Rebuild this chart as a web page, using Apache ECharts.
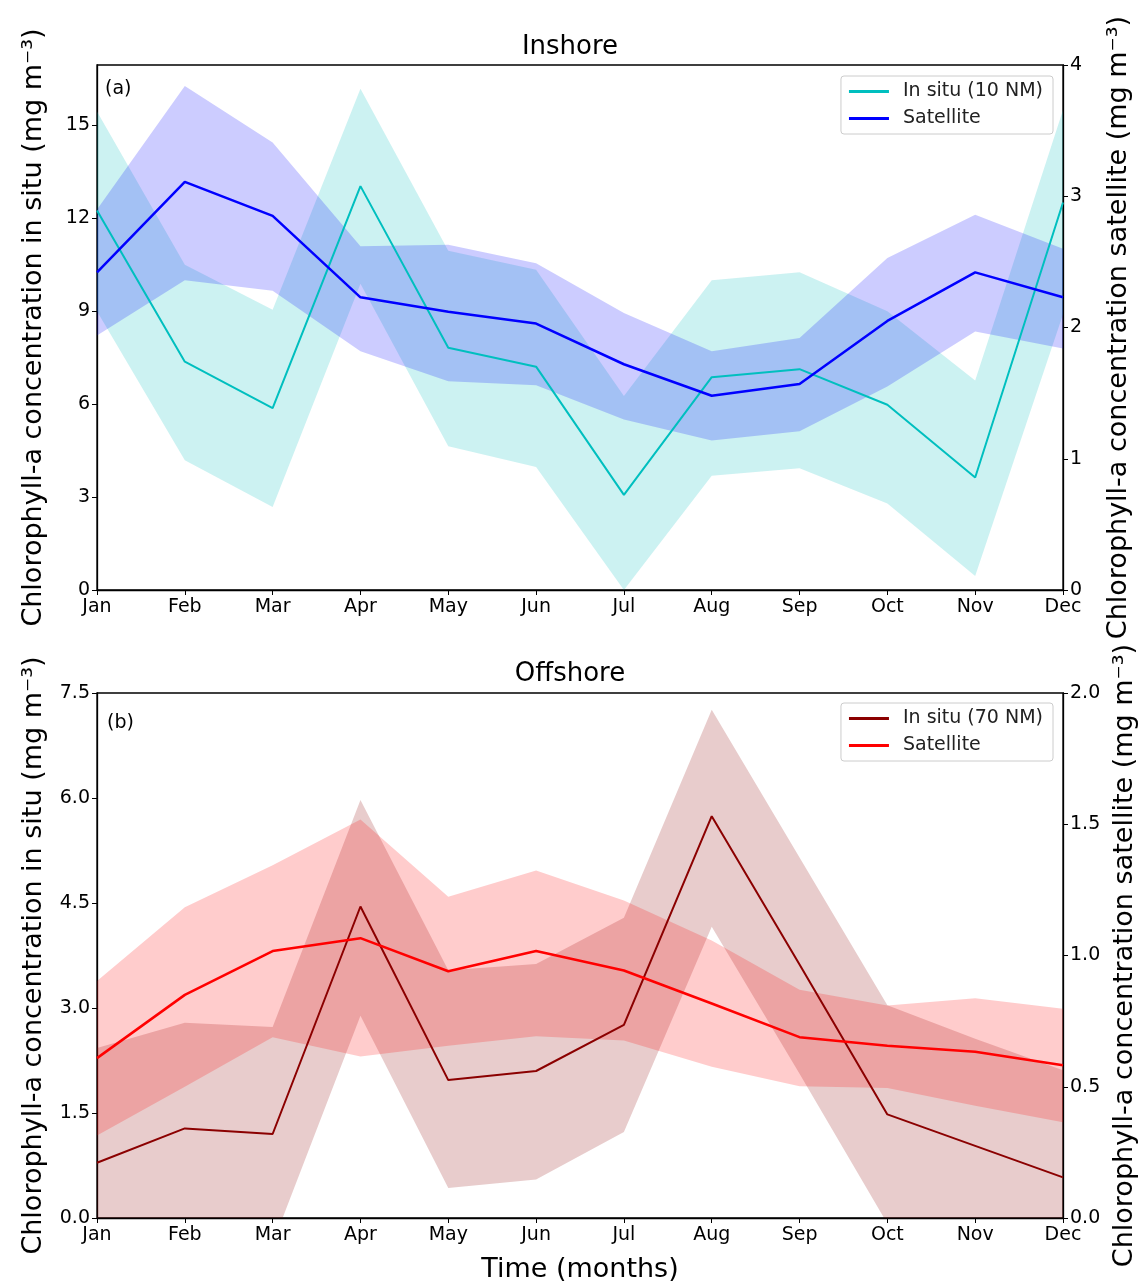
<!DOCTYPE html>
<html>
<head>
<meta charset="utf-8">
<script src="https://cdn.jsdelivr.net/npm/echarts@6/dist/echarts.min.js"></script>
<style>
html,body{margin:0;padding:0;background:#fff;}
#chart{width:1140px;height:1286px;}
</style>
</head>
<body>
<div id="chart"></div>
<script>
// ---------- data ----------
const months = ['Jan','Feb','Mar','Apr','May','Jun','Jul','Aug','Sep','Oct','Nov','Dec'];

// Inshore (a)
const inshoreInSitu      = [12.25, 7.37, 5.87, 13.04, 7.82, 7.21, 3.07, 6.87, 7.13, 5.98, 3.63, 12.51];
const inshoreInSituUpper = [15.45, 10.50, 9.05, 16.18, 10.95, 10.34, 6.26, 10.00, 10.26, 9.00, 6.76, 15.50];
const inshoreInSituLower = [9.00, 4.19, 2.68, 9.89, 4.64, 3.97, 0.00, 3.69, 3.93, 2.79, 0.45, 8.90];
const inshoreSat         = [2.42, 3.11, 2.85, 2.23, 2.12, 2.03, 1.72, 1.48, 1.57, 2.05, 2.42, 2.23];
const inshoreSatUpper    = [2.90, 3.84, 3.41, 2.62, 2.63, 2.49, 2.11, 1.82, 1.92, 2.53, 2.86, 2.60];
const inshoreSatLower    = [1.94, 2.36, 2.28, 1.82, 1.59, 1.56, 1.30, 1.14, 1.21, 1.55, 1.97, 1.84];

// Offshore (b)
const offshoreInSitu      = [0.79, 1.28, 1.20, 4.45, 1.97, 2.10, 2.76, 5.74, 3.62, 1.48, 1.03, 0.58];
const offshoreInSituUpper = [2.43, 2.79, 2.73, 5.97, 3.54, 3.63, 4.29, 7.26, 5.15, 3.04, 2.56, 2.11];
const offshoreInSituLower = [-0.90, -0.60, -0.37, 2.89, 0.43, 0.55, 1.23, 4.16, 2.06, -0.08, -0.50, -1.00];
const offshoreSat         = [0.609, 0.850, 1.017, 1.066, 0.940, 1.017, 0.943, 0.817, 0.689, 0.656, 0.633, 0.582];
const offshoreSatUpper    = [0.903, 1.184, 1.344, 1.518, 1.224, 1.324, 1.210, 1.057, 0.870, 0.810, 0.837, 0.797];
const offshoreSatLower    = [0.314, 0.500, 0.689, 0.615, 0.656, 0.692, 0.676, 0.576, 0.502, 0.495, 0.428, 0.365];

// tick settings
const inshoreLeftTicks  = {min: 0, max: 16.95, interval: 3};
const inshoreRightTicks = {min: 0, max: 4, interval: 1};
const offshoreLeftTicks  = {min: 0, max: 7.5, interval: 1.5};
const offshoreRightTicks = {min: 0, max: 2, interval: 0.5};

// ---------- chart ----------
const FONT = 'DejaVu Sans';
const chart = echarts.init(document.getElementById('chart'), null, {renderer: 'canvas'});

function diff(u, l) { return u.map((v, i) => +(v - l[i]).toFixed(4)); }

function band(name, stack, xi, yi, lower, upper, fill) {
  return [
    {name: name + '-lo', type: 'line', xAxisIndex: xi, yAxisIndex: yi, stack: stack, stackStrategy: 'all',
     data: lower, symbol: 'none', lineStyle: {width: 0, opacity: 0}, silent: true, clip: true, z: 1},
    {name: name + '-hi', type: 'line', xAxisIndex: xi, yAxisIndex: yi, stack: stack, stackStrategy: 'all',
     data: diff(upper, lower), symbol: 'none', lineStyle: {width: 0, opacity: 0},
     areaStyle: {color: fill, opacity: 1}, silent: true, clip: true, z: 1}
  ];
}

function meanLine(name, xi, yi, data, color, width) {
  return {name: name, type: 'line', xAxisIndex: xi, yAxisIndex: yi, data: data, symbol: 'none',
          lineStyle: {color: color, width: width}, itemStyle: {color: color}, clip: true, z: 3};
}

const axisLabelStyle = {color: '#000', fontFamily: FONT, fontSize: 19};
const axisNameStyle = {color: '#000', fontFamily: FONT, fontSize: 27};

function xAx(gi, showName) {
  return {
    type: 'category', gridIndex: gi, data: months, boundaryGap: false,
    axisLine: {lineStyle: {color: '#000', width: 1.3}},
    axisTick: {length: 5, lineStyle: {color: '#000'}},
    axisLabel: Object.assign({margin: 8, interval: 0}, axisLabelStyle),
    splitLine: {show: false},
    name: showName ? 'Time (months)' : '', nameLocation: 'middle', nameGap: 38,
    nameTextStyle: axisNameStyle
  };
}

function yAx(gi, pos, ticks, name, gap, fmt) {
  return {
    type: 'value', gridIndex: gi, position: pos,
    min: ticks.min, max: ticks.max, interval: ticks.interval,
    axisLine: {show: true, lineStyle: {color: '#000', width: 1.3}},
    axisTick: {show: true, length: 5, lineStyle: {color: '#000'}},
    axisLabel: Object.assign({margin: 7, showMaxLabel: ticks.max % ticks.interval === 0 ? true : false,
      formatter: fmt}, axisLabelStyle),
    splitLine: {show: false},
    name: name, nameLocation: 'middle', nameRotate: 90, nameGap: gap,
    nameTextStyle: axisNameStyle
  };
}

const labInSitu = 'Chlorophyll-a concentration in situ (mg m\u207B\u00B3)';
const labSat = 'Chlorophyll-a concentration satellite (mg m\u207B\u00B3)';

const legendCommon = {
  orient: 'vertical', right: 87, icon: 'rect', itemWidth: 40, itemHeight: 3, itemGap: 8,
  padding: [6, 10, 6, 8], backgroundColor: 'rgba(255,255,255,0.8)',
  borderColor: '#cccccc', borderWidth: 1, borderRadius: 3,
  textStyle: {fontFamily: FONT, fontSize: 19, color: '#222', padding: [0, 0, 0, 9]},
  formatter: n => n.trim(), selectedMode: false
};

const option = {
  animation: false,
  backgroundColor: '#fff',
  title: [
    {text: 'Inshore', left: 'center', top: 29, textStyle: {fontFamily: FONT, fontSize: 26, fontWeight: 'normal', color: '#000'}},
    {text: 'Offshore', left: 'center', top: 656, textStyle: {fontFamily: FONT, fontSize: 26, fontWeight: 'normal', color: '#000'}},
    {text: '(a)', left: 100, top: 75, textStyle: {fontFamily: FONT, fontSize: 19, fontWeight: 'normal', color: '#000'}},
    {text: '(b)', left: 102, top: 709, textStyle: {fontFamily: FONT, fontSize: 19, fontWeight: 'normal', color: '#000'}}
  ],
  legend: [
    Object.assign({top: 76, data: ['In situ (10 NM)', 'Satellite']}, legendCommon),
    Object.assign({top: 703, data: ['In situ (70 NM)', 'Satellite ']}, legendCommon)
  ],
  grid: [
    {left: 97, right: 77, top: 65, height: 525, show: true, borderColor: '#000', borderWidth: 1.3,
     backgroundColor: 'transparent', containLabel: false, outerBoundsMode: 'none'},
    {left: 97, right: 77, top: 693, height: 525, show: true, borderColor: '#000', borderWidth: 1.3,
     backgroundColor: 'transparent', containLabel: false, outerBoundsMode: 'none'}
  ],
  xAxis: [xAx(0, false), xAx(1, true)],
  yAxis: [
    yAx(0, 'left', inshoreLeftTicks, labInSitu, 50, v => String(v)),
    yAx(0, 'right', inshoreRightTicks, labSat, 42, v => String(v)),
    yAx(1, 'left', offshoreLeftTicks, labInSitu, 50, v => v.toFixed(1)),
    yAx(1, 'right', offshoreRightTicks, labSat, 42, v => v.toFixed(1))
  ],
  series: [].concat(
    band('inshoreInSitu', 'a1', 0, 0, inshoreInSituLower, inshoreInSituUpper, 'rgba(0,191,191,0.2)'),
    band('inshoreSat', 'a2', 0, 1, inshoreSatLower, inshoreSatUpper, 'rgba(0,0,255,0.2)'),
    [meanLine('In situ (10 NM)', 0, 0, inshoreInSitu, '#00bfbf', 2),
     meanLine('Satellite', 0, 1, inshoreSat, '#0000ff', 2.5)],
    band('offshoreInSitu', 'b1', 1, 2, offshoreInSituLower, offshoreInSituUpper, 'rgba(139,0,0,0.2)'),
    band('offshoreSat', 'b2', 1, 3, offshoreSatLower, offshoreSatUpper, 'rgba(255,0,0,0.2)'),
    [meanLine('In situ (70 NM)', 1, 2, offshoreInSitu, '#8b0000', 2),
     meanLine('Satellite ', 1, 3, offshoreSat, '#ff0000', 2.5)]
  )
};

chart.setOption(option);
</script>
</body>
</html>
